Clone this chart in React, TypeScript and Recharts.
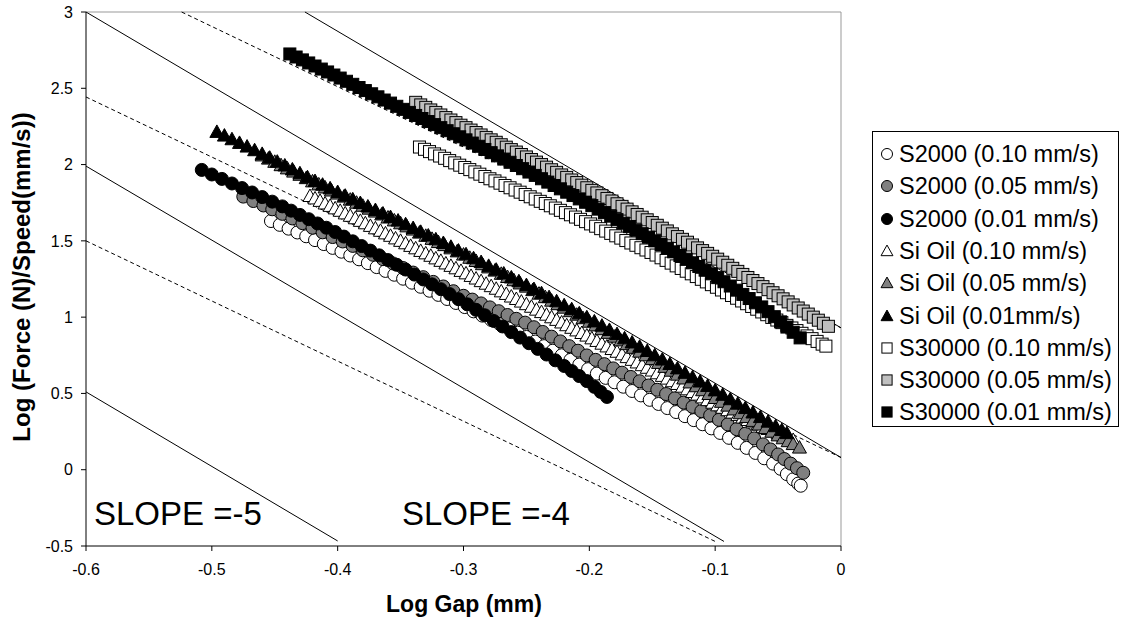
import { ScatterChart, Scatter, XAxis, YAxis, ReferenceLine, Legend } from 'recharts'

// log gap (mm) vs log force/speed
const s2000_010: [number, number][] = [
  [-0.453, 1.63], [-0.446, 1.605], [-0.439, 1.58], [-0.432, 1.555], [-0.425, 1.53], [-0.418, 1.505], [-0.411, 1.479], [-0.404, 1.454],
  [-0.397, 1.429], [-0.39, 1.404], [-0.383, 1.379], [-0.376, 1.354], [-0.369, 1.328], [-0.362, 1.303], [-0.355, 1.278],
  [-0.348, 1.252], [-0.341, 1.226], [-0.334, 1.199], [-0.327, 1.173], [-0.32, 1.146], [-0.313, 1.119], [-0.306, 1.093],
  [-0.299, 1.066], [-0.292, 1.038], [-0.285, 1.01], [-0.278, 0.982], [-0.271, 0.954], [-0.264, 0.926], [-0.257, 0.898], [-0.25, 0.87],
  [-0.243, 0.84], [-0.236, 0.81], [-0.229, 0.78], [-0.222, 0.75], [-0.215, 0.72], [-0.208, 0.689], [-0.201, 0.659],
  [-0.194, 0.63], [-0.187, 0.602], [-0.18, 0.573], [-0.173, 0.544], [-0.166, 0.516], [-0.159, 0.487], [-0.152, 0.458],
  [-0.145, 0.431], [-0.138, 0.404], [-0.131, 0.378], [-0.124, 0.351], [-0.117, 0.325], [-0.11, 0.298], [-0.103, 0.271],
  [-0.096, 0.241], [-0.089, 0.209], [-0.082, 0.176], [-0.075, 0.143], [-0.068, 0.11], [-0.061, 0.075], [-0.054, 0.04],
  [-0.048, 0.006], [-0.043, -0.029], [-0.038, -0.063], [-0.034, -0.091], [-0.032, -0.105]
]

const s2000_005: [number, number][] = [
  [-0.475, 1.79], [-0.467, 1.761], [-0.459, 1.732], [-0.452, 1.707], [-0.444, 1.677], [-0.436, 1.647], [-0.428, 1.616], [-0.42, 1.586],
  [-0.412, 1.556], [-0.404, 1.525], [-0.396, 1.496], [-0.388, 1.467], [-0.38, 1.438], [-0.372, 1.409], [-0.364, 1.38], [-0.356, 1.352],
  [-0.348, 1.322], [-0.34, 1.292], [-0.332, 1.262], [-0.324, 1.231], [-0.316, 1.201], [-0.308, 1.17], [-0.3, 1.14], [-0.293, 1.115],
  [-0.286, 1.09], [-0.279, 1.064], [-0.272, 1.039], [-0.265, 1.014], [-0.258, 0.989], [-0.251, 0.964], [-0.244, 0.934], [-0.237, 0.903],
  [-0.23, 0.872], [-0.223, 0.841], [-0.216, 0.81], [-0.209, 0.78], [-0.202, 0.749], [-0.195, 0.72], [-0.188, 0.692], [-0.181, 0.664],
  [-0.174, 0.636], [-0.167, 0.608], [-0.16, 0.58], [-0.153, 0.552], [-0.146, 0.524], [-0.139, 0.496], [-0.132, 0.468], [-0.125, 0.44],
  [-0.118, 0.412], [-0.111, 0.384], [-0.104, 0.356], [-0.097, 0.327], [-0.09, 0.297], [-0.083, 0.266], [-0.076, 0.236], [-0.069, 0.205],
  [-0.062, 0.166], [-0.056, 0.133], [-0.05, 0.1], [-0.045, 0.07], [-0.04, 0.04], [-0.035, 0.01], [-0.03, -0.02]
]

const s2000_001: [number, number][] = [
  [-0.508, 1.965], [-0.5, 1.935], [-0.492, 1.906], [-0.484, 1.876], [-0.476, 1.846], [-0.468, 1.817], [-0.46, 1.787], [-0.452, 1.757],
  [-0.444, 1.726], [-0.437, 1.698], [-0.43, 1.67], [-0.423, 1.642], [-0.416, 1.614], [-0.409, 1.586], [-0.402, 1.558],
  [-0.395, 1.528], [-0.388, 1.497], [-0.381, 1.466], [-0.374, 1.436], [-0.367, 1.405], [-0.36, 1.374], [-0.353, 1.343],
  [-0.346, 1.312], [-0.339, 1.279], [-0.332, 1.247], [-0.325, 1.215], [-0.318, 1.183], [-0.311, 1.151], [-0.304, 1.118],
  [-0.297, 1.084], [-0.29, 1.048], [-0.283, 1.012], [-0.276, 0.975], [-0.269, 0.939], [-0.262, 0.902], [-0.255, 0.866],
  [-0.248, 0.829], [-0.241, 0.792], [-0.234, 0.755], [-0.227, 0.717], [-0.22, 0.68], [-0.214, 0.647], [-0.208, 0.614],
  [-0.202, 0.581], [-0.196, 0.543], [-0.191, 0.51], [-0.186, 0.477]
]

const sioil_010: [number, number][] = [
  [-0.422, 1.794], [-0.418, 1.778], [-0.414, 1.762], [-0.41, 1.745], [-0.406, 1.729], [-0.402, 1.713], [-0.398, 1.697], [-0.394, 1.68],
  [-0.39, 1.664], [-0.386, 1.648], [-0.382, 1.631], [-0.378, 1.615], [-0.374, 1.598], [-0.37, 1.582], [-0.366, 1.566], [-0.362, 1.549],
  [-0.358, 1.533], [-0.354, 1.516], [-0.35, 1.5], [-0.346, 1.484], [-0.342, 1.467], [-0.338, 1.451], [-0.334, 1.434], [-0.33, 1.418],
  [-0.326, 1.402], [-0.322, 1.385], [-0.318, 1.369], [-0.314, 1.352], [-0.31, 1.336], [-0.306, 1.32], [-0.302, 1.303], [-0.298, 1.287],
  [-0.294, 1.27], [-0.29, 1.253], [-0.286, 1.236], [-0.282, 1.219], [-0.278, 1.203], [-0.274, 1.186], [-0.27, 1.169], [-0.266, 1.152],
  [-0.262, 1.135], [-0.258, 1.119], [-0.254, 1.102], [-0.25, 1.085], [-0.246, 1.068], [-0.242, 1.049], [-0.238, 1.033], [-0.234, 1.016],
  [-0.23, 0.999], [-0.226, 0.982], [-0.222, 0.965], [-0.218, 0.947], [-0.214, 0.93], [-0.21, 0.913], [-0.206, 0.896], [-0.202, 0.879],
  [-0.198, 0.861], [-0.194, 0.844], [-0.19, 0.826], [-0.186, 0.808], [-0.182, 0.791], [-0.178, 0.773], [-0.174, 0.756], [-0.17, 0.738],
  [-0.166, 0.72], [-0.162, 0.703], [-0.158, 0.685], [-0.154, 0.668], [-0.15, 0.65], [-0.146, 0.632], [-0.142, 0.615], [-0.138, 0.597],
  [-0.134, 0.58], [-0.13, 0.562], [-0.126, 0.544], [-0.122, 0.527], [-0.118, 0.509], [-0.114, 0.492], [-0.11, 0.474], [-0.106, 0.456],
  [-0.102, 0.439], [-0.098, 0.422], [-0.094, 0.406], [-0.09, 0.39], [-0.086, 0.374], [-0.082, 0.358], [-0.078, 0.342], [-0.074, 0.326],
  [-0.07, 0.31], [-0.066, 0.296], [-0.062, 0.281], [-0.058, 0.267], [-0.054, 0.252], [-0.05, 0.238], [-0.046, 0.224], [-0.042, 0.209],
  [-0.038, 0.195]
]

const sioil_005: [number, number][] = [
  [-0.46, 2.06], [-0.455, 2.039], [-0.45, 2.018], [-0.445, 1.996], [-0.44, 1.975], [-0.435, 1.954], [-0.43, 1.933], [-0.425, 1.911],
  [-0.42, 1.89], [-0.415, 1.87], [-0.41, 1.85], [-0.405, 1.83], [-0.4, 1.81], [-0.395, 1.79], [-0.39, 1.77], [-0.385, 1.75],
  [-0.38, 1.73], [-0.375, 1.711], [-0.37, 1.692], [-0.365, 1.673], [-0.36, 1.653], [-0.355, 1.634], [-0.35, 1.615], [-0.345, 1.595],
  [-0.34, 1.574], [-0.335, 1.554], [-0.33, 1.533], [-0.325, 1.513], [-0.32, 1.492], [-0.315, 1.472], [-0.31, 1.451], [-0.305, 1.431],
  [-0.3, 1.41], [-0.295, 1.389], [-0.29, 1.368], [-0.285, 1.347], [-0.28, 1.326], [-0.275, 1.305], [-0.27, 1.284], [-0.265, 1.263],
  [-0.26, 1.242], [-0.255, 1.221], [-0.25, 1.2], [-0.245, 1.177], [-0.24, 1.154], [-0.235, 1.131], [-0.23, 1.108], [-0.225, 1.085],
  [-0.22, 1.062], [-0.215, 1.039], [-0.21, 1.016], [-0.205, 0.993], [-0.2, 0.97], [-0.195, 0.946], [-0.19, 0.921], [-0.185, 0.897],
  [-0.18, 0.872], [-0.175, 0.848], [-0.17, 0.823], [-0.165, 0.799], [-0.16, 0.774], [-0.155, 0.75], [-0.15, 0.725], [-0.145, 0.7],
  [-0.14, 0.674], [-0.135, 0.649], [-0.13, 0.623], [-0.125, 0.598], [-0.12, 0.572], [-0.115, 0.547], [-0.11, 0.521], [-0.105, 0.496],
  [-0.1, 0.47], [-0.095, 0.445], [-0.09, 0.42], [-0.085, 0.395], [-0.08, 0.37], [-0.075, 0.345], [-0.07, 0.32], [-0.065, 0.296],
  [-0.06, 0.273], [-0.055, 0.249], [-0.05, 0.225], [-0.046, 0.206], [-0.042, 0.187], [-0.038, 0.168], [-0.033, 0.145]
]

const sioil_001: [number, number][] = [
  [-0.496, 2.214], [-0.49, 2.19], [-0.484, 2.166], [-0.478, 2.142], [-0.472, 2.118], [-0.466, 2.094], [-0.46, 2.07], [-0.454, 2.045],
  [-0.448, 2.019], [-0.442, 1.994], [-0.436, 1.968], [-0.43, 1.943], [-0.424, 1.917], [-0.418, 1.892], [-0.412, 1.868], [-0.406, 1.844],
  [-0.4, 1.82], [-0.394, 1.796], [-0.388, 1.772], [-0.382, 1.748], [-0.376, 1.725], [-0.37, 1.702], [-0.364, 1.679], [-0.358, 1.656],
  [-0.352, 1.633], [-0.346, 1.609], [-0.34, 1.584], [-0.334, 1.559], [-0.328, 1.535], [-0.322, 1.51], [-0.316, 1.486], [-0.31, 1.461],
  [-0.304, 1.436], [-0.298, 1.412], [-0.292, 1.386], [-0.286, 1.361], [-0.28, 1.336], [-0.274, 1.311], [-0.268, 1.286], [-0.262, 1.26],
  [-0.256, 1.235], [-0.25, 1.21], [-0.244, 1.184], [-0.238, 1.157], [-0.232, 1.131], [-0.226, 1.104], [-0.22, 1.078], [-0.214, 1.052],
  [-0.208, 1.025], [-0.202, 0.999], [-0.196, 0.972], [-0.19, 0.944], [-0.184, 0.916], [-0.178, 0.889], [-0.172, 0.861], [-0.166, 0.834],
  [-0.16, 0.806], [-0.154, 0.778], [-0.148, 0.75], [-0.142, 0.722], [-0.136, 0.693], [-0.13, 0.664], [-0.124, 0.635], [-0.118, 0.606],
  [-0.112, 0.578], [-0.106, 0.549], [-0.1, 0.52], [-0.094, 0.491], [-0.088, 0.462], [-0.082, 0.433], [-0.076, 0.404], [-0.07, 0.375],
  [-0.064, 0.345], [-0.058, 0.315], [-0.052, 0.285], [-0.047, 0.26], [-0.043, 0.24]
]

const s30000_010: [number, number][] = [
  [-0.335, 2.115], [-0.331, 2.1], [-0.327, 2.085], [-0.323, 2.07], [-0.319, 2.056], [-0.315, 2.041], [-0.311, 2.026], [-0.307, 2.011],
  [-0.303, 1.996], [-0.299, 1.981], [-0.295, 1.967], [-0.291, 1.952], [-0.287, 1.937], [-0.283, 1.922], [-0.279, 1.907], [-0.275, 1.893],
  [-0.271, 1.878], [-0.267, 1.863], [-0.263, 1.848], [-0.259, 1.833], [-0.255, 1.819], [-0.251, 1.804], [-0.247, 1.789], [-0.243, 1.774],
  [-0.239, 1.759], [-0.235, 1.745], [-0.231, 1.73], [-0.227, 1.715], [-0.223, 1.7], [-0.219, 1.685], [-0.215, 1.671], [-0.211, 1.656],
  [-0.207, 1.641], [-0.203, 1.626], [-0.199, 1.611], [-0.195, 1.596], [-0.191, 1.58], [-0.187, 1.564], [-0.183, 1.549], [-0.179, 1.533],
  [-0.175, 1.518], [-0.171, 1.502], [-0.167, 1.486], [-0.163, 1.471], [-0.159, 1.455], [-0.155, 1.44], [-0.151, 1.424], [-0.147, 1.407],
  [-0.143, 1.389], [-0.139, 1.372], [-0.135, 1.354], [-0.131, 1.336], [-0.127, 1.319], [-0.123, 1.301], [-0.119, 1.284], [-0.115, 1.266],
  [-0.111, 1.248], [-0.107, 1.231], [-0.103, 1.213], [-0.099, 1.196], [-0.095, 1.178], [-0.091, 1.16], [-0.087, 1.142], [-0.083, 1.124],
  [-0.079, 1.106], [-0.075, 1.088], [-0.071, 1.07], [-0.067, 1.052], [-0.063, 1.034], [-0.059, 1.016], [-0.055, 0.998], [-0.051, 0.981],
  [-0.047, 0.964], [-0.043, 0.946], [-0.039, 0.929], [-0.035, 0.912], [-0.031, 0.894], [-0.027, 0.877], [-0.023, 0.859], [-0.019, 0.841],
  [-0.015, 0.823], [-0.012, 0.81]
]

const s30000_005: [number, number][] = [
  [-0.338, 2.408], [-0.334, 2.391], [-0.33, 2.375], [-0.326, 2.358], [-0.322, 2.342], [-0.318, 2.325], [-0.314, 2.308], [-0.31, 2.292],
  [-0.306, 2.275], [-0.302, 2.258], [-0.298, 2.242], [-0.294, 2.226], [-0.29, 2.21], [-0.286, 2.194], [-0.282, 2.178], [-0.278, 2.162],
  [-0.274, 2.146], [-0.27, 2.13], [-0.266, 2.114], [-0.262, 2.098], [-0.258, 2.082], [-0.254, 2.066], [-0.25, 2.05], [-0.246, 2.033],
  [-0.242, 2.016], [-0.238, 2.0], [-0.234, 1.983], [-0.23, 1.966], [-0.226, 1.949], [-0.222, 1.932], [-0.218, 1.916], [-0.214, 1.899],
  [-0.21, 1.882], [-0.206, 1.865], [-0.202, 1.848], [-0.198, 1.831], [-0.194, 1.814], [-0.19, 1.796], [-0.186, 1.778], [-0.182, 1.761],
  [-0.178, 1.743], [-0.174, 1.726], [-0.17, 1.708], [-0.166, 1.69], [-0.162, 1.673], [-0.158, 1.655], [-0.154, 1.638], [-0.15, 1.62],
  [-0.146, 1.602], [-0.142, 1.583], [-0.138, 1.565], [-0.134, 1.546], [-0.13, 1.528], [-0.126, 1.51], [-0.122, 1.491], [-0.118, 1.473],
  [-0.114, 1.454], [-0.11, 1.436], [-0.106, 1.418], [-0.102, 1.399], [-0.098, 1.38], [-0.094, 1.36], [-0.09, 1.34], [-0.086, 1.32],
  [-0.082, 1.3], [-0.078, 1.28], [-0.074, 1.26], [-0.07, 1.24], [-0.066, 1.22], [-0.062, 1.2], [-0.058, 1.18], [-0.054, 1.16],
  [-0.05, 1.14], [-0.046, 1.12], [-0.042, 1.1], [-0.038, 1.08], [-0.034, 1.06], [-0.03, 1.04], [-0.026, 1.02], [-0.022, 1.0],
  [-0.018, 0.98], [-0.014, 0.96], [-0.01, 0.94]
]

const s30000_001: [number, number][] = [
  [-0.438, 2.725], [-0.433, 2.705], [-0.428, 2.686], [-0.423, 2.666], [-0.418, 2.646], [-0.413, 2.626], [-0.408, 2.607], [-0.403, 2.587],
  [-0.398, 2.567], [-0.393, 2.546], [-0.388, 2.526], [-0.383, 2.505], [-0.378, 2.485], [-0.373, 2.464], [-0.368, 2.444], [-0.363, 2.423],
  [-0.358, 2.403], [-0.353, 2.382], [-0.348, 2.362], [-0.343, 2.342], [-0.338, 2.322], [-0.333, 2.302], [-0.328, 2.282], [-0.323, 2.262],
  [-0.318, 2.242], [-0.313, 2.222], [-0.308, 2.202], [-0.303, 2.182], [-0.298, 2.162], [-0.293, 2.141], [-0.288, 2.12], [-0.283, 2.099],
  [-0.278, 2.078], [-0.273, 2.057], [-0.268, 2.036], [-0.263, 2.015], [-0.258, 1.994], [-0.253, 1.973], [-0.248, 1.951], [-0.243, 1.929],
  [-0.238, 1.907], [-0.233, 1.885], [-0.228, 1.863], [-0.223, 1.841], [-0.218, 1.819], [-0.213, 1.797], [-0.208, 1.775], [-0.203, 1.753],
  [-0.198, 1.731], [-0.193, 1.708], [-0.188, 1.685], [-0.183, 1.662], [-0.178, 1.639], [-0.173, 1.616], [-0.168, 1.593], [-0.163, 1.57],
  [-0.158, 1.547], [-0.153, 1.524], [-0.148, 1.5], [-0.143, 1.476], [-0.138, 1.452], [-0.133, 1.428], [-0.128, 1.404], [-0.123, 1.38],
  [-0.118, 1.356], [-0.113, 1.332], [-0.108, 1.308], [-0.103, 1.284], [-0.098, 1.259], [-0.093, 1.232], [-0.088, 1.204], [-0.083, 1.177],
  [-0.078, 1.149], [-0.073, 1.122], [-0.068, 1.094], [-0.063, 1.067], [-0.058, 1.036], [-0.053, 1.003], [-0.048, 0.969], [-0.043, 0.935],
  [-0.038, 0.901], [-0.0325, 0.864]
]

// guide lines drawn on the figure: [start, end] in data units
const slope5Lines = [
  [[-0.6, 3], [0, 0.08]],
  [[-0.426, 3], [0, 0.93]],
  [[-0.6, 1.99], [-0.093, -0.47]],
  [[-0.6, 0.51], [-0.4, -0.467]]
]
const slope4Lines = [
  [[-0.524, 3], [0, 0.93]],
  [[-0.6, 2.443], [0, 0.08]],
  [[-0.6, 1.5], [-0.1, -0.47]]
]

const xTicks = [-0.6, -0.5, -0.4, -0.3, -0.2, -0.1, 0]
const yTicks = [-0.5, 0, 0.5, 1, 1.5, 2, 2.5, 3]

const series = [
  { name: 'S2000 (0.10 mm/s)', data: s2000_010, kind: 'circle', fill: '#ffffff' },
  { name: 'S2000 (0.05 mm/s)', data: s2000_005, kind: 'circle', fill: '#808080' },
  { name: 'S2000 (0.01 mm/s)', data: s2000_001, kind: 'circle', fill: '#000000' },
  { name: 'Si Oil (0.10 mm/s)', data: sioil_010, kind: 'triangle', fill: '#ffffff' },
  { name: 'Si Oil (0.05 mm/s)', data: sioil_005, kind: 'triangle', fill: '#808080' },
  { name: 'Si Oil (0.01mm/s)', data: sioil_001, kind: 'triangle', fill: '#000000' },
  { name: 'S30000 (0.10 mm/s)', data: s30000_010, kind: 'square', fill: '#ffffff' },
  { name: 'S30000 (0.05 mm/s)', data: s30000_005, kind: 'square', fill: '#c0c0c0' },
  { name: 'S30000 (0.01 mm/s)', data: s30000_001, kind: 'square', fill: '#000000' }
]

const FONT = 'Arial, "Liberation Sans", Helvetica, sans-serif'

function Marker ({ cx, cy, kind, fill, s = 1 }: any) {
  if (cx == null || cy == null) return null
  if (kind === 'circle') {
    return <circle cx={cx} cy={cy} r={6.5 * s} fill={fill} stroke='#000' strokeWidth={1} />
  }
  if (kind === 'triangle') {
    const pts = `${cx},${cy - 7 * s} ${cx + 7 * s},${cy + 5.5 * s} ${cx - 7 * s},${cy + 5.5 * s}`
    return <polygon points={pts} fill={fill} stroke='#000' strokeWidth={1} />
  }
  return <rect x={cx - 6 * s} y={cy - 6 * s} width={12 * s} height={12 * s} fill={fill} stroke='#000' strokeWidth={1} />
}

function LegendBox () {
  return (
    <div style={{ width: 247, height: 296, boxSizing: 'border-box', border: '1px solid #000', background: '#fff', position: 'relative', fontFamily: FONT }}>
      {series.map((s, i) => (
        <div key={s.name} style={{ position: 'absolute', left: 0, top: 6 + i * 32.3, height: 32, display: 'flex', alignItems: 'center', whiteSpace: 'nowrap' }}>
          <svg width={26} height={20} style={{ display: 'block' }}>
            <Marker cx={14} cy={10} kind={s.kind} fill={s.fill} s={0.85} />
          </svg>
          <span style={{ fontSize: 23.5, lineHeight: '32px', color: '#000' }}>{s.name}</span>
        </div>
      ))}
    </div>
  )
}

export default function App () {
  return (
    <div style={{ position: 'absolute', left: 0, top: 0, background: '#fff' }}>
      <ScatterChart width={1123} height={620} margin={{ top: 12, right: 282, bottom: 0, left: 0 }} style={{ fontFamily: FONT }}>
        <XAxis
          type='number' dataKey='x' domain={[-0.6, 0]} ticks={xTicks} allowDataOverflow
          height={74} tickSize={5} tickMargin={13} stroke='#000'
          tick={{ fill: '#000', fontSize: 16, fontFamily: FONT }}
        />
        <YAxis
          type='number' dataKey='y' domain={[-0.5, 3]} ticks={yTicks} allowDataOverflow
          width={86} tickSize={5} tickMargin={8} stroke='#000'
          tick={{ fill: '#000', fontSize: 16, fontFamily: FONT }}
        />
        <ReferenceLine y={3} stroke='#999' strokeWidth={1} />
        <ReferenceLine x={0} stroke='#999' strokeWidth={1} />
        {series.map(s => (
          <Scatter
            key={s.name} name={s.name} data={s.data.map(([x, y]) => ({ x, y }))}
            isAnimationActive={false} fill={s.fill}
            shape={(p: any) => <Marker cx={p.cx} cy={p.cy} kind={s.kind} fill={s.fill} />}
          />
        ))}
        {slope5Lines.map((l, i) => (
          <ReferenceLine key={'s5' + i} segment={[{ x: l[0][0], y: l[0][1] }, { x: l[1][0], y: l[1][1] }]} stroke='#000' strokeWidth={1} ifOverflow='visible' />
        ))}
        {slope4Lines.map((l, i) => (
          <ReferenceLine key={'s4' + i} segment={[{ x: l[0][0], y: l[0][1] }, { x: l[1][0], y: l[1][1] }]} stroke='#000' strokeWidth={1} strokeDasharray='4 3' ifOverflow='visible' />
        ))}
        <text x={94} y={525} fontSize={33} fontFamily={FONT} fill='#000'>SLOPE =-5</text>
        <text x={402} y={525} fontSize={33} fontFamily={FONT} fill='#000'>SLOPE =-4</text>
        <text x={464} y={612} fontSize={23} fontWeight='bold' fontFamily={FONT} textAnchor='middle' fill='#000'>Log Gap (mm)</text>
        <text x={30} y={277} fontSize={24} fontWeight='bold' fontFamily={FONT} textAnchor='middle' fill='#000' transform='rotate(-90 30 277)'>Log (Force (N)/Speed(mm/s))</text>
        <Legend
          layout='vertical' align='center' verticalAlign='middle'
          wrapperStyle={{ left: 872, top: 131, width: 247, height: 296 }}
          content={() => <LegendBox />}
        />
      </ScatterChart>
    </div>
  )
}
